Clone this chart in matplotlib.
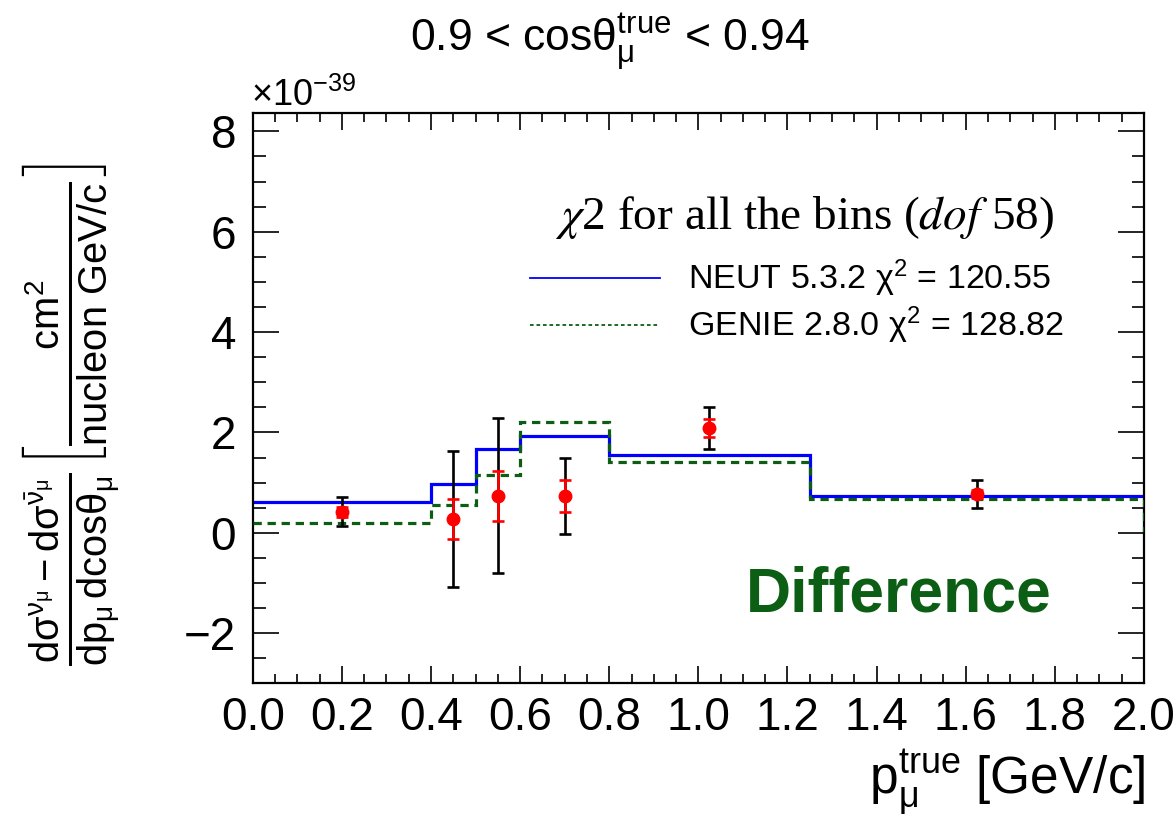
import matplotlib
matplotlib.use("Agg")
import matplotlib.pyplot as plt
import numpy as np

plt.rcParams['font.family'] = ['Liberation Sans', 'DejaVu Sans']
plt.rcParams['mathtext.fontset'] = 'custom'
plt.rcParams['mathtext.rm'] = 'Liberation Sans'
plt.rcParams['mathtext.it'] = 'Liberation Sans:italic'
plt.rcParams['mathtext.bf'] = 'Liberation Sans:bold'
plt.rcParams['axes.unicode_minus'] = True

# Bin edges in muon momentum [GeV/c] (last bin runs past the visible range)
bin_edges = [0.0, 0.4, 0.5, 0.6, 0.8, 1.25, 2.0, 3.0]
# Model predictions of the difference, in units of 1e-39 cm^2/nucleon/(GeV/c)
neut_vals = [0.61, 0.97, 1.67, 1.92, 1.55, 0.74, 0.74]
genie_vals = [0.19, 0.56, 1.16, 2.20, 1.42, 0.67, 0.05]

# Data points
data_x = [0.2, 0.45, 0.55, 0.7, 1.025, 1.625]
data_y = [0.42, 0.27, 0.73, 0.73, 2.09, 0.77]
# Total (black) and statistical (red) uncertainties: lower, upper
tot_lo = [0.28, 1.35, 1.54, 0.75, 0.42, 0.27]
tot_hi = [0.29, 1.35, 1.55, 0.76, 0.42, 0.28]
stat_lo = [0.10, 0.39, 0.49, 0.31, 0.18, 0.08]
stat_hi = [0.10, 0.40, 0.50, 0.33, 0.17, 0.08]

W, H = 1174, 834
fig = plt.figure(figsize=(W / 100, H / 100), dpi=100)
ax = fig.add_axes([252.7 / W, 1 - 683.3 / H, (1144 - 252.7) / W, (683.3 - 113.3) / H])

green = '#0b5e14'

ax.stairs(neut_vals, bin_edges, color='#0000ff', lw=2.3, baseline=None, zorder=2)
ax.stairs(genie_vals, bin_edges, color=green, lw=2.3, ls=(0, (2.6, 1.8)), baseline=None, zorder=3)

ax.errorbar(data_x, data_y, yerr=[tot_lo, tot_hi], fmt='none', ecolor='black',
            elinewidth=1.9, capsize=4.5, capthick=1.9, zorder=4)
ax.errorbar(data_x, data_y, yerr=[stat_lo, stat_hi], fmt='none', ecolor='#ff0000',
            elinewidth=1.9, capsize=4.5, capthick=1.9, zorder=5)
ax.plot(data_x, data_y, 'o', color='#ff0000', ms=9, mec='#ff0000', zorder=6)

ax.set_xlim(0.0, 2.0)
ax.set_ylim(-3.0, 8.36)

ax.set_xticks(np.arange(0.0, 2.01, 0.2))
ax.set_xticks(np.arange(0.0, 2.01, 0.05), minor=True)
ax.set_xticklabels([f'{v:.1f}' for v in np.arange(0.0, 2.01, 0.2)])
ax.set_yticks([-2, 0, 2, 4, 6, 8])
ax.set_yticks(np.arange(-3.0, 8.3, 0.5), minor=True)
ax.set_yticklabels(['\u22122', '0', '2', '4', '6', '8'])

ax.tick_params(axis='both', which='both', direction='in', top=True, right=True,
               width=1.2, labelsize=33, colors='black')
ax.tick_params(axis='x', which='major', length=12.5, pad=9)
ax.tick_params(axis='x', which='minor', length=6.5)
ax.tick_params(axis='y', which='major', length=19, pad=12)
ax.tick_params(axis='y', which='minor', length=9)
for s in ax.spines.values():
    s.set_linewidth(1.6)

# Exponent label
fig.text(251 / W, 1 - 96 / H, '\u00d710$^{\\mathregular{\u221239}}$', fontsize=26,
         ha='left', va='center')

# Title
fig.text(610 / W, 1 - 42 / H, '0.9 < cos$\\mathregular{\u03b8_{\u03bc}^{true}}$ < 0.94',
         fontsize=32, ha='center', va='center')

# Axis titles
fig.text(1145 / W, 1 - 782 / H, '$\\mathregular{p_{\u03bc}^{true}}$ [GeV/c]',
         fontsize=37, ha='right', va='center')
fig.text(72 / W, 1 - 415 / H,
         r'$\mathregular{\frac{d\sigma^{\nu_{\mu}} - d\sigma^{\bar{\nu}_{\mu}}}{dp_{\mu}\,dcos\theta_{\mu}}'
         r'\left[\frac{cm^{2}}{nucleon\ GeV/c}\right]}$',
         fontsize=41, rotation=90, ha='center', va='center')

# Chi-square legend
fig.text(805 / W, 1 - 218 / H, r'$\chi$2 for all the bins ($dof$ 58)',
         fontsize=34, family='Liberation Serif', math_fontfamily='stix',
         ha='center', va='center')
y1 = 1 - 278 / H
y2 = 1 - 325 / H
fig.add_artist(plt.Line2D([530 / W, 660 / W], [y1, y1], color='#0000ff', lw=1.3))
fig.add_artist(plt.Line2D([530 / W, 660 / W], [y2, y2], color=green, lw=1.3,
                          ls=(0, (2, 1.6))))
fig.text(688 / W, y1, 'NEUT 5.3.2 $\\mathregular{\u03c7^{2}}$ = 120.55', fontsize=24.5,
         ha='left', va='center')
fig.text(688 / W, y2, 'GENIE 2.8.0 $\\mathregular{\u03c7^{2}}$ = 128.82', fontsize=24.5,
         ha='left', va='center')

# Panel tag
ax.text(0.725, 0.155, 'Difference', transform=ax.transAxes, fontsize=45,
        fontweight='bold', color=green, ha='center', va='center')

fig.savefig('out.png', dpi=100)
